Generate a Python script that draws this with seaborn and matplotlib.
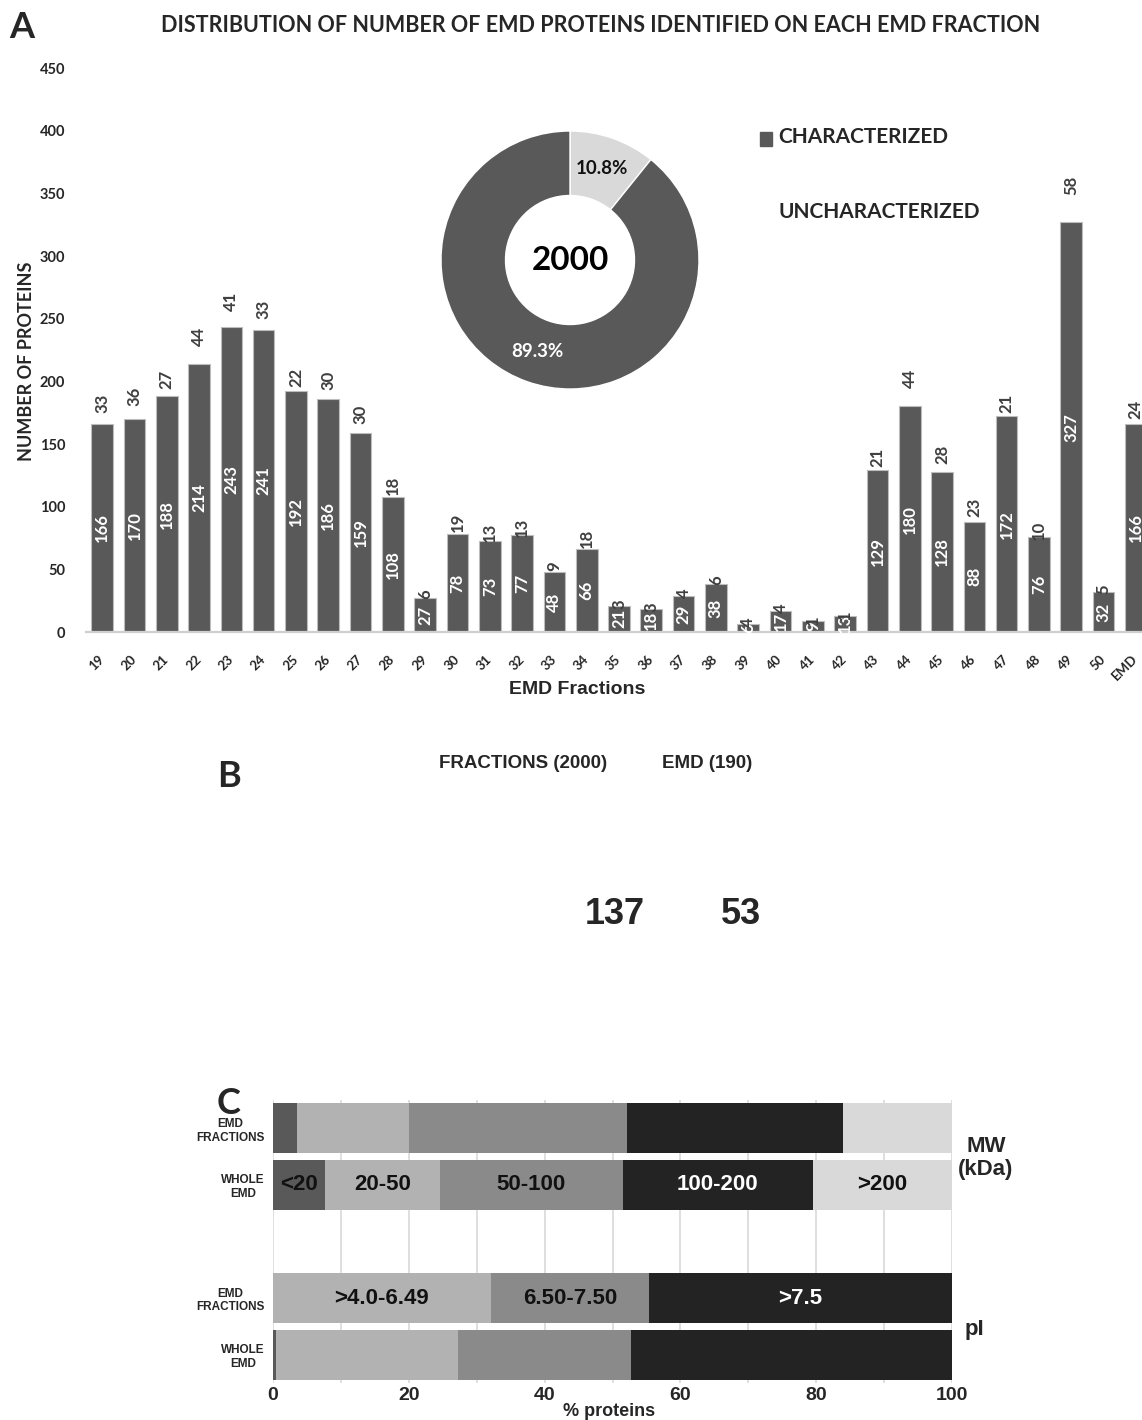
import matplotlib
matplotlib.use("Agg")
import matplotlib.pyplot as plt
from matplotlib.patches import Rectangle
import numpy as np
import pandas as pd
import seaborn as sns

# ---------------- data ----------------
# Panel A: proteins identified per EMD fraction
fractions = ["19", "20", "21", "22", "23", "24", "25", "26", "27", "28",
             "29", "30", "31", "32", "33", "34", "35", "36", "37", "38",
             "39", "40", "41", "42", "43", "44", "45", "46", "47", "48",
             "49", "50", "EMD"]
characterized = [166, 170, 188, 214, 243, 241, 192, 186, 159, 108,
                 27, 78, 73, 77, 48, 66, 21, 18, 29, 38,
                 6, 17, 9, 13, 129, 180, 128, 88, 172, 76,
                 327, 32, 166]
uncharacterized = [33, 36, 27, 44, 41, 33, 22, 30, 30, 18,
                   6, 19, 13, 13, 9, 18, 3, 3, 4, 6,
                   4, 4, 1, 1, 21, 44, 28, 23, 21, 10,
                   58, 5, 24]
legend_labels = ["CHARACTERIZED", "UNCHARACTERIZED"]

# donut: share of uncharacterized / characterized among all identified proteins
pie_shares = [10.8, 89.3]
pie_total = 2000

# Panel B: overlap counts
venn_sets = ["FRACTIONS (2000)", "EMD (190)"]
venn_counts = [137, 53]

# Panel C: MW and pI class distributions (% proteins)
row_labels = ["EMD\nFRACTIONS", "WHOLE\nEMD", "EMD\nFRACTIONS", "WHOLE\nEMD"]
mw_classes = ["<20", "20-50", "50-100", "100-200", ">200"]
mw_fractions = [3.5, 16.6, 32.1, 31.7, 16.1]
mw_whole = [7.7, 16.9, 26.9, 28.0, 20.5]
pi_classes = ["<4.0", ">4.0-6.49", "6.50-7.50", ">7.5"]
pi_fractions = [0.0, 32.1, 23.3, 44.6]
pi_whole = [0.4, 26.9, 25.4, 47.3]

# ---------------- style ----------------
sns.set_theme(style="white")
plt.rcParams["font.family"] = ["Lato", "DejaVu Sans"]
ARIAL = ["Liberation Sans", "DejaVu Sans"]

W, H = 1142, 1420
fig = plt.figure(figsize=(W / 100, H / 100), dpi=100)
fig.patch.set_facecolor("white")


def fx(px):
    return px / W


def fy(py):
    return 1 - py / H


BAR = "#595959"
LIGHT = "#d9d9d9"

# ---------------- Panel A ----------------
ax = fig.add_axes([fx(86), fy(632), fx(1152 - 86), (632 - 68) / H])
df = pd.DataFrame({"fraction": fractions, "characterized": characterized})
sns.barplot(data=df, x="fraction", y="characterized", color=BAR, saturation=1,
            width=0.67, edgecolor="#bdbdbd", linewidth=0.8, ax=ax)
ax.set_xlim(-0.5, len(fractions) - 0.5)
ax.set_ylim(0, 450)
ax.set_yticks(np.arange(0, 451, 50))
ax.set_xlabel("")
ax.set_ylabel("")
sns.despine(ax=ax, left=True)
ax.spines["bottom"].set_color("#cfcfcf")
ax.spines["bottom"].set_linewidth(1.6)
ax.tick_params(axis="y", length=0, pad=15, labelsize=10.5)
ax.tick_params(axis="x", length=0, pad=18, labelsize=9.5)
for t in ax.get_yticklabels():
    t.set_fontweight("bold")
for t in ax.get_xticklabels():
    t.set_fontweight("bold")
    t.set_rotation(45)
    t.set_ha("right")
    t.set_va("center")
    t.set_rotation_mode("anchor")

bars = list(ax.patches)
for i, (c, u) in enumerate(zip(characterized, uncharacterized)):
    inner = ax.text(i, c / 2, str(c), rotation=90, ha="center", va="center",
                    color="white", fontsize=12, fontweight="bold", zorder=5)
    # white count only shows where it sits on its own bar
    inner.set_clip_path(bars[i])
    ax.text(i, c + u / 2, str(u), rotation=90, ha="center", va="center",
            color="#3f3f3f", fontsize=12, fontweight="bold", zorder=5)

fig.text(fx(577), fy(690), "EMD Fractions", ha="center", va="center",
         fontsize=14, fontweight="bold", family=ARIAL)
fig.text(fx(27), fy(361), "NUMBER OF PROTEINS", rotation=90, ha="center",
         va="center", fontsize=13, fontweight="bold")
fig.text(fx(601), fy(26),
         "DISTRIBUTION OF NUMBER OF EMD PROTEINS IDENTIFIED ON EACH EMD FRACTION",
         ha="center", va="center", fontsize=15.5, fontweight="bold")
fig.text(fx(22), fy(27), "A", ha="center", va="center", fontsize=26,
         fontweight="bold")

# legend
fig.add_artist(Rectangle((fx(760), fy(146)), 12 / W, 14 / H,
                         transform=fig.transFigure, color=BAR))
fig.text(fx(778), fy(137), legend_labels[0], ha="left", va="center",
         fontsize=15, fontweight="bold")
fig.text(fx(778), fy(212), legend_labels[1], ha="left", va="center",
         fontsize=15, fontweight="bold")

# donut
pax = fig.add_axes([fx(441), fy(389), 258 / W, 258 / H])
wedges, texts = pax.pie(
    pie_shares, colors=[LIGHT, BAR], startangle=90, counterclock=False,
    radius=1, labels=[f"{v:.1f}%" for v in pie_shares], labeldistance=0.75,
    wedgeprops=dict(width=0.5, edgecolor="white", linewidth=1.0),
    textprops=dict(fontsize=13.5, fontweight="bold"))
for t, col in zip(texts, ["#111111", "white"]):
    t.set_ha("center")
    t.set_va("center")
    t.set_color(col)
pax.text(0, 0, str(pie_total), ha="center", va="center", fontsize=24,
         fontweight="bold", color="black")
pax.set_xlim(-1, 1)
pax.set_ylim(-1, 1)
pax.set_aspect("equal")
pax.axis("off")

# ---------------- Panel B ----------------
fig.text(fx(229), fy(776), "B", ha="center", va="center", fontsize=26,
         fontweight="bold")
fig.text(fx(523), fy(764), venn_sets[0], ha="center", va="center",
         fontsize=13.5, fontweight="bold", family=ARIAL)
fig.text(fx(707), fy(764), venn_sets[1], ha="center", va="center",
         fontsize=13.5, fontweight="bold", family=ARIAL)
fig.text(fx(615), fy(914), str(venn_counts[0]), ha="center", va="center",
         fontsize=26, fontweight="bold", family=ARIAL)
fig.text(fx(741), fy(914), str(venn_counts[1]), ha="center", va="center",
         fontsize=26, fontweight="bold", family=ARIAL)

# ---------------- Panel C ----------------
fig.text(fx(229), fy(1104), "C", ha="center", va="center", fontsize=26,
         fontweight="bold")
cax = fig.add_axes([fx(273), fy(1383), fx(952 - 273), (1383 - 1100) / H])
mw_colors = ["#595959", "#b2b2b2", "#8a8a8a", "#232323", "#d9d9d9"]
pi_colors = ["#595959", "#b2b2b2", "#8a8a8a", "#232323"]
mw_text = ["#111111", "#111111", "#111111", "white", "#111111"]
pi_text = ["#111111", "#111111", "#111111", "white"]
row_pos = [0, 1, 3, 4]
rows = [(mw_fractions, mw_colors, None, None),
        (mw_whole, mw_colors, mw_classes, mw_text),
        (pi_fractions, pi_colors, pi_classes, pi_text),
        (pi_whole, pi_colors, None, None)]
for pos, (vals, cols, names, tcols) in zip(row_pos, rows):
    left = 0.0
    for k, (v, col) in enumerate(zip(vals, cols)):
        cax.barh(pos, v, left=left, height=0.88, color=col, linewidth=0,
                 zorder=2)
        if names is not None and v > 0:
            cax.text(left + v / 2, pos, names[k], ha="center", va="center",
                     fontsize=16, fontweight="bold", color=tcols[k],
                     family=ARIAL, zorder=3)
        left += v

cax.set_xlim(0, 100)
cax.set_ylim(4.5, -0.5)
cax.set_xticks(np.arange(0, 101, 20))
cax.set_xticks(np.arange(0, 101, 10), minor=True)
cax.grid(True, axis="x", which="both", color="#d9d9d9", linewidth=1.2,
         zorder=0)
cax.set_axisbelow(True)
for s in cax.spines.values():
    s.set_visible(False)
cax.set_yticks(row_pos)
cax.set_yticklabels(row_labels)
cax.tick_params(axis="y", length=0, pad=6)
cax.tick_params(axis="x", which="both", length=0, pad=3)
for t in cax.get_yticklabels():
    t.set_fontsize(8.5)
    t.set_fontweight("bold")
    t.set_family(ARIAL)
    t.set_multialignment("center")
for t in cax.get_xticklabels():
    t.set_fontsize(14)
    t.set_fontweight("bold")
    t.set_family(ARIAL)

fig.text(fx(609), fy(1412), "% proteins", ha="center", va="center",
         fontsize=13, fontweight="bold", family=ARIAL)
fig.text(fx(986), fy(1158), "MW\n(kDa)", ha="center", va="center",
         fontsize=16, fontweight="bold", family=ARIAL, linespacing=1.1)
fig.text(fx(974), fy(1329), "pI", ha="center", va="center",
         fontsize=16, fontweight="bold", family=ARIAL)

fig.savefig("out.png", dpi=100, facecolor="white")
